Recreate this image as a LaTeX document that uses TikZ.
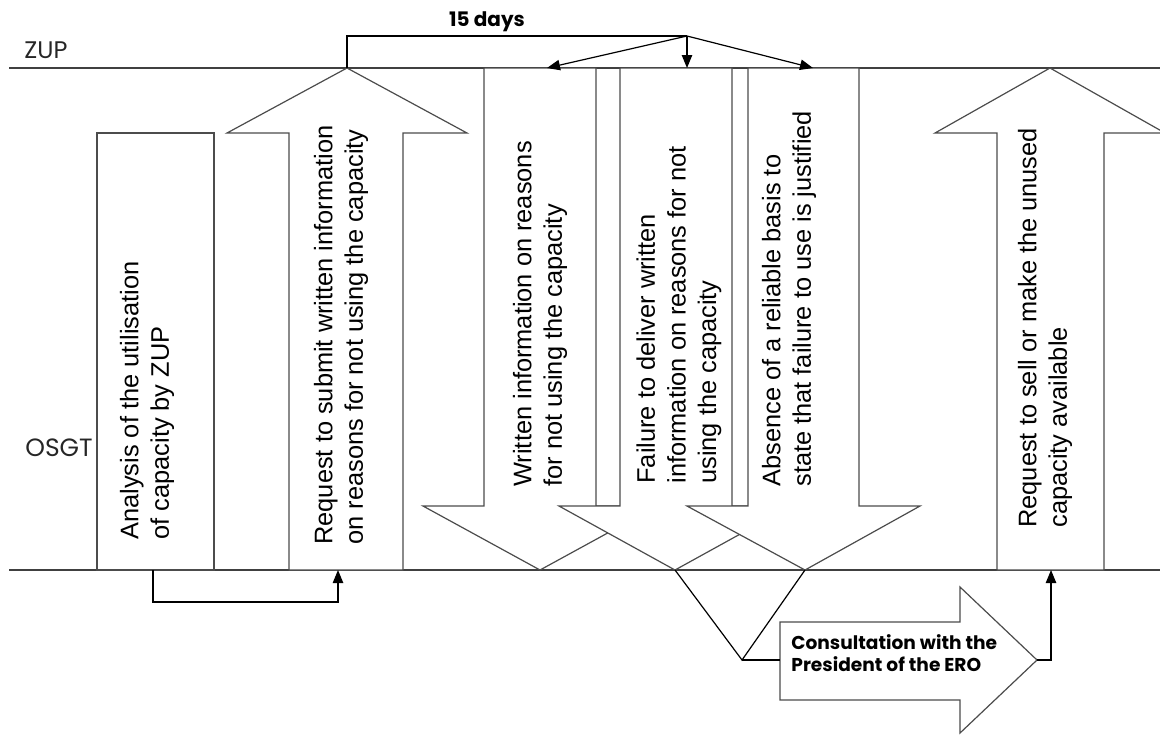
\documentclass[tikz,border=0pt]{standalone}
\usepackage{fontspec}
\setmainfont{Liberation Sans}
\newfontfamily\gothic{Poppins}
\usetikzlibrary{arrows.meta}
\begin{document}
\begin{tikzpicture}[x=0.5pt,y=-0.5pt,
  arrowbox/.style={draw=black!70, fill=white, line width=0.6pt, line join=miter},
  lane/.style={draw=black!75, line width=0.6pt},
  plain/.style={draw=black, line width=0.6pt},
  conn/.style={draw=black, line width=0.6pt, -{Triangle[length=6.5pt,width=5.2pt]}},
  vtext/.style={rotate=90, anchor=west, align=left, inner sep=0pt, font=\fontsize{12.7}{15.3}\selectfont},
  lab/.style={font=\gothic\fontsize{12.5}{14}\selectfont, text=black!85, inner sep=0pt, anchor=base west},
  boldlab/.style={font=\gothic\bfseries\fontsize{9.3}{11}\selectfont, inner sep=0pt, align=left}]
\useasboundingbox (0,0) rectangle (1160,736);
\clip (0,0) rectangle (1160,736);

% swim lanes
\coordinate (zupL) at (9,68);  \coordinate (zupR) at (1160,68);
\coordinate (osgL) at (9,570); \coordinate (osgR) at (1160,570);
\draw[lane] (zupL) -- (zupR);
\draw[lane] (osgL) -- (osgR);
\node[lab, font=\gothic\fontsize{12}{14}\selectfont] (zup) at (24,58) {ZUP};
\node[lab] (osgt) at (25,456) {OSGT};

% key coordinates
\coordinate (anaB) at (153,570);
\coordinate (req1T) at (347,68);
\coordinate (req1B) at (338,570);
\coordinate (apex) at (687,36);
\coordinate (aT) at (547,68);
\coordinate (bT) at (687,68);
\coordinate (cT) at (813,68);
\coordinate (bTip) at (675,570);
\coordinate (cTip) at (805,570);
\coordinate (meet) at (742,660);
\coordinate (consL) at (780,660);
\coordinate (consTip) at (1037,660);
\coordinate (req2B) at (1051,570);

% analysis box
\draw[arrowbox] (97,133) rectangle (214,570);
\node[vtext] (ana) at (147,540) {Analysis of the utilisation\\of capacity by ZUP};

% up arrow 1
\draw[arrowbox] (289,570) -- (289,133) -- (227,133) -- (req1T) -- (467,133) -- (403,133) -- (403,570) -- cycle;
\node[vtext] (req1) at (341,545) {Request to submit written information\\on reasons for not using the capacity};

% down arrows
\draw[arrowbox] (484,68) -- (484,506) -- (423,506) -- (540,570) -- (657,506) -- (596,506) -- (596,68) -- cycle;
\draw[arrowbox] (620,68) -- (620,506) -- (559,506) -- (bTip) -- (791,506) -- (732,506) -- (732,68) -- cycle;
\draw[arrowbox] (748,68) -- (748,506) -- (687,506) -- (cTip) -- (920,506) -- (859,506) -- (859,68) -- cycle;
\node[vtext] (wri) at (540,487) {Written information on reasons\\for not using the capacity};
\node[vtext] (fail) at (679,484) {Failure to deliver written\\information on reasons for not\\using the capacity};
\node[vtext] (abs) at (789,487) {Absence of a reliable basis to\\state that failure to use is justified};

% up arrow 2
\draw[arrowbox] (997,570) -- (997,133) -- (935,133) -- (1050,68) -- (1165,133) -- (1104,133) -- (1104,570) -- cycle;
\node[vtext] (req2) at (1045,528) {Request to sell or make the unused\\capacity available};

% consultation arrow
\draw[arrowbox] (consL) -- (780,622) -- (960,622) -- (960,587) -- (consTip) -- (960,733) -- (960,700) -- (780,700) -- cycle;
\node[boldlab, anchor=north west] (cons) at (791,634) {Consultation with the\\President of the ERO};

% connectors
\draw[conn] (anaB) -- ++(0,32) -| (req1B);
\draw[plain] (req1T) |- (apex);
\node[font=\gothic\bfseries\fontsize{10}{12}\selectfont, anchor=base, inner sep=0pt] (days) at (487,26) {15 days};
\draw[conn] (apex) -- (aT);
\draw[conn] (apex) -- (bT);
\draw[conn] (apex) -- (cT);
\draw[plain] (bTip) -- (meet) -- (cTip);
\draw[plain] (meet) -- (consL);
\draw[conn] (consTip) -| (req2B);
\end{tikzpicture}
\end{document}
